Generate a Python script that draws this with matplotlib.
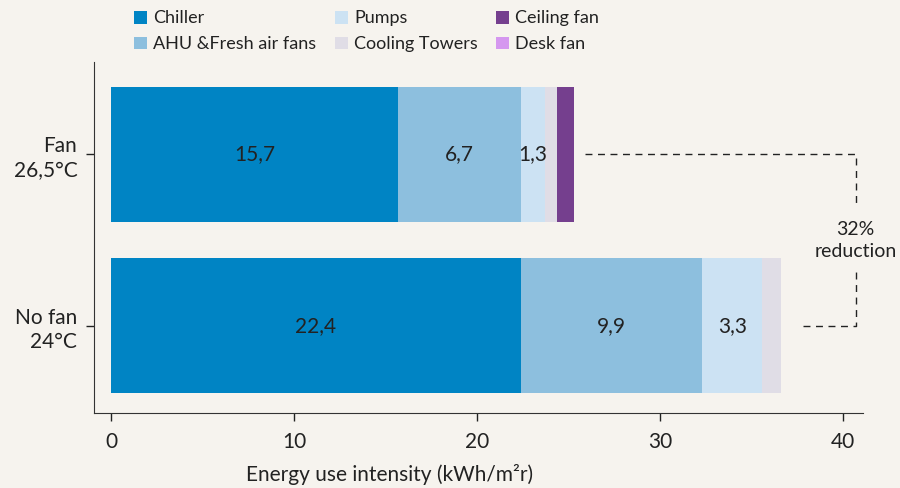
import numpy as np
import matplotlib
matplotlib.use('Agg')
import matplotlib.pyplot as plt
from matplotlib.patches import Patch

plt.rcParams['font.family'] = ['Lato', 'DejaVu Sans']

# data
scenarios = ['No fan\n24°C', 'Fan\n26,5°C']
components = ['Chiller', 'AHU &Fresh air fans', 'Pumps', 'Cooling Towers', 'Ceiling fan', 'Desk fan']
no_fan = [22.4, 9.9, 3.3, 1.0, 0.0, 0.0]
fan = [15.7, 6.7, 1.3, 0.7, 0.9, 0.0]
labelled = [True, True, True, False, False, False]
colors = ['#0084c4', '#8dbfde', '#cce2f3', '#e0dde6', '#753f8e', '#d597ef']
reduction_text = '32%\nreduction'
xticks = [0, 10, 20, 30, 40]

bg = '#f6f3ee'
txt = '#222222'
fs = 15

fig = plt.figure(figsize=(9, 4.88), dpi=100, facecolor=bg)
ax = fig.add_axes([0.1044, 0.1537, 0.8545, 0.7193])
ax.set_facecolor(bg)

data = np.array([no_fan, fan])
ypos = np.arange(len(scenarios))
left = np.zeros(len(scenarios))
for i, comp in enumerate(components):
    ax.barh(ypos, data[:, i], left=left, height=0.79, color=colors[i], label=comp)
    if labelled[i]:
        for j in range(len(scenarios)):
            ax.text(left[j] + data[j, i] / 2, ypos[j], '{:.1f}'.format(data[j, i]).replace('.', ','),
                    ha='center', va='center', fontsize=fs, color=txt)
    left += data[:, i]

# dashed bracket showing reduction
xr = 40.7
dash = (0, (5, 4))
ax.plot([left[1] + 0.6, xr, xr], [1, 1, 0.71], ls=dash, color=txt, lw=1)
ax.plot([left[0] + 1.2, xr, xr], [0, 0, 0.32], ls=dash, color=txt, lw=1)
ax.text(xr, 0.5, reduction_text, ha='center', va='center', fontsize=14, color=txt,
        linespacing=1.35, clip_on=False)

ax.set_xlim(-0.93, 41.1)
ax.set_ylim(-0.51, 1.54)
ax.set_yticks(ypos)
ax.set_yticklabels(scenarios, ha='right', linespacing=1.3)
ax.set_xticks(xticks)
ax.tick_params(colors=txt, labelsize=fs, length=6, width=1)
ax.tick_params(axis='y', pad=6)
ax.tick_params(axis='x', pad=8)
for s in ['top', 'right']:
    ax.spines[s].set_visible(False)
for s in ['left', 'bottom']:
    ax.spines[s].set_color('#333333')

ax.set_xlabel('Energy use intensity (kWh/m²r)', fontsize=fs, color=txt)
ax.xaxis.set_label_coords((390 - 94) / 769, -0.145)

handles = [Patch(facecolor=c, edgecolor='none') for c in colors]
fig.legend(handles, components, ncol=3, loc='upper left', bbox_to_anchor=(0.131, 1.012),
           frameon=False, fontsize=13, handlelength=0.72, handleheight=0.72,
           handletextpad=0.35, columnspacing=1.0, labelspacing=0.55, labelcolor=txt)

fig.savefig('out.png', dpi=100, facecolor=bg)
